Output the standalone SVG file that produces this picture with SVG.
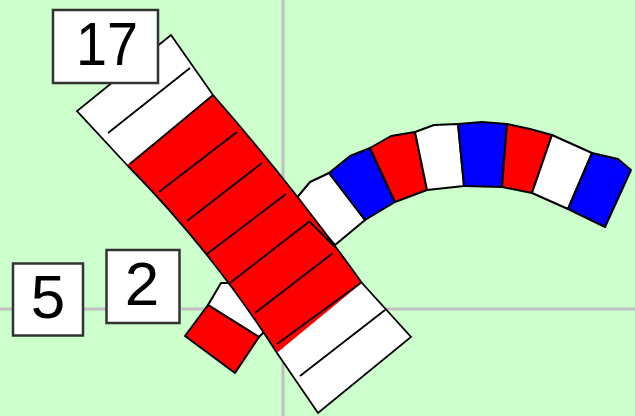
<svg xmlns="http://www.w3.org/2000/svg" width="635" height="416" viewBox="0 0 635 416">
<style>
.s{stroke:#000;stroke-width:2;stroke-linejoin:round}
.w{fill:#fff}.r{fill:#f00}.b{fill:#00f}
.d{fill:none;stroke:#000;stroke-width:1.8}
.box{fill:#fff;stroke:#333;stroke-width:2.5}
.t{font-family:"Liberation Sans",Arial,sans-serif;font-size:62px;fill:#000;text-anchor:middle}
.ax{stroke:#c0c0c0;stroke-width:3}
</style>
<defs><filter id="soft" x="0" y="0" width="100%" height="100%"><feGaussianBlur stdDeviation="0.45"/></filter></defs>
<rect width="635" height="416" fill="#ccffcc"/>
<g filter="url(#soft)">
<g id="axes"><path class="ax" d="M283,0V416M0,309H635"/></g>
<g id="arc">
<path class="s w" d="M295,200L310,182L329,173L365,220L335,245Z"/>
<path class="s b" d="M329,173L350,156L370,148L395,202L365,220Z"/>
<path class="s r" d="M370,148L391,136L415,132L427,190L395,202Z"/>
<path class="s w" d="M415,132L434,125L458,124L464,186L427,190Z"/>
<path class="s b" d="M458,124L482,122L507,124L502,187L464,186Z"/>
<path class="s r" d="M507,124L530,129L552,135L532,193L502,187Z"/>
<path class="s w" d="M552,135L592,153L568,209L532,193Z"/>
<path class="s b" d="M592,153L618,159L631,170L605,227L568,209Z"/>
</g>
<g id="small">
<path class="s w" d="M221,283L208,305L259,337L268,328L235,283Z"/>
<path class="s r" d="M208,305L259,337L235,373L185,336Z"/>
</g>
<g id="main">
<path class="w" d="M171,35L77,111L127,165L213,95Z"/>
<path class="r" d="M127,165Q212,251 277,353L362,283Q292,185 213,95Z"/>
<path class="w" d="M277,353L318,413L411,337L362,283Z"/>
<path class="d" d="M171,35L213,95Q292,185 362,283L411,337L318,413L277,353Q212,251 127,165L77,111Z"/>
<g id="dividers"><path class="d" d="M108,133L190,68M130,164L213,95M159,192L237,132M187,221L262,163M207,254L286,194M230,283L310,221M255,313L333,253M277,344L362,282M300,376L385,310"/></g>
<path class="d" d="M310,222L335,247" stroke-width="1.2"/>
</g>
<g id="label17"><rect class="box" x="53" y="10" width="105" height="73"/><text class="t" x="107" y="65" textLength="62" lengthAdjust="spacingAndGlyphs">17</text></g>
<g id="label2"><rect class="box" x="106.500" y="250" width="73" height="73"/><text class="t" x="142" y="305">2</text></g>
<g id="label5"><rect class="box" x="13" y="263.500" width="70" height="72"/><text class="t" x="48" y="318">5</text></g>
</g>
</svg>
